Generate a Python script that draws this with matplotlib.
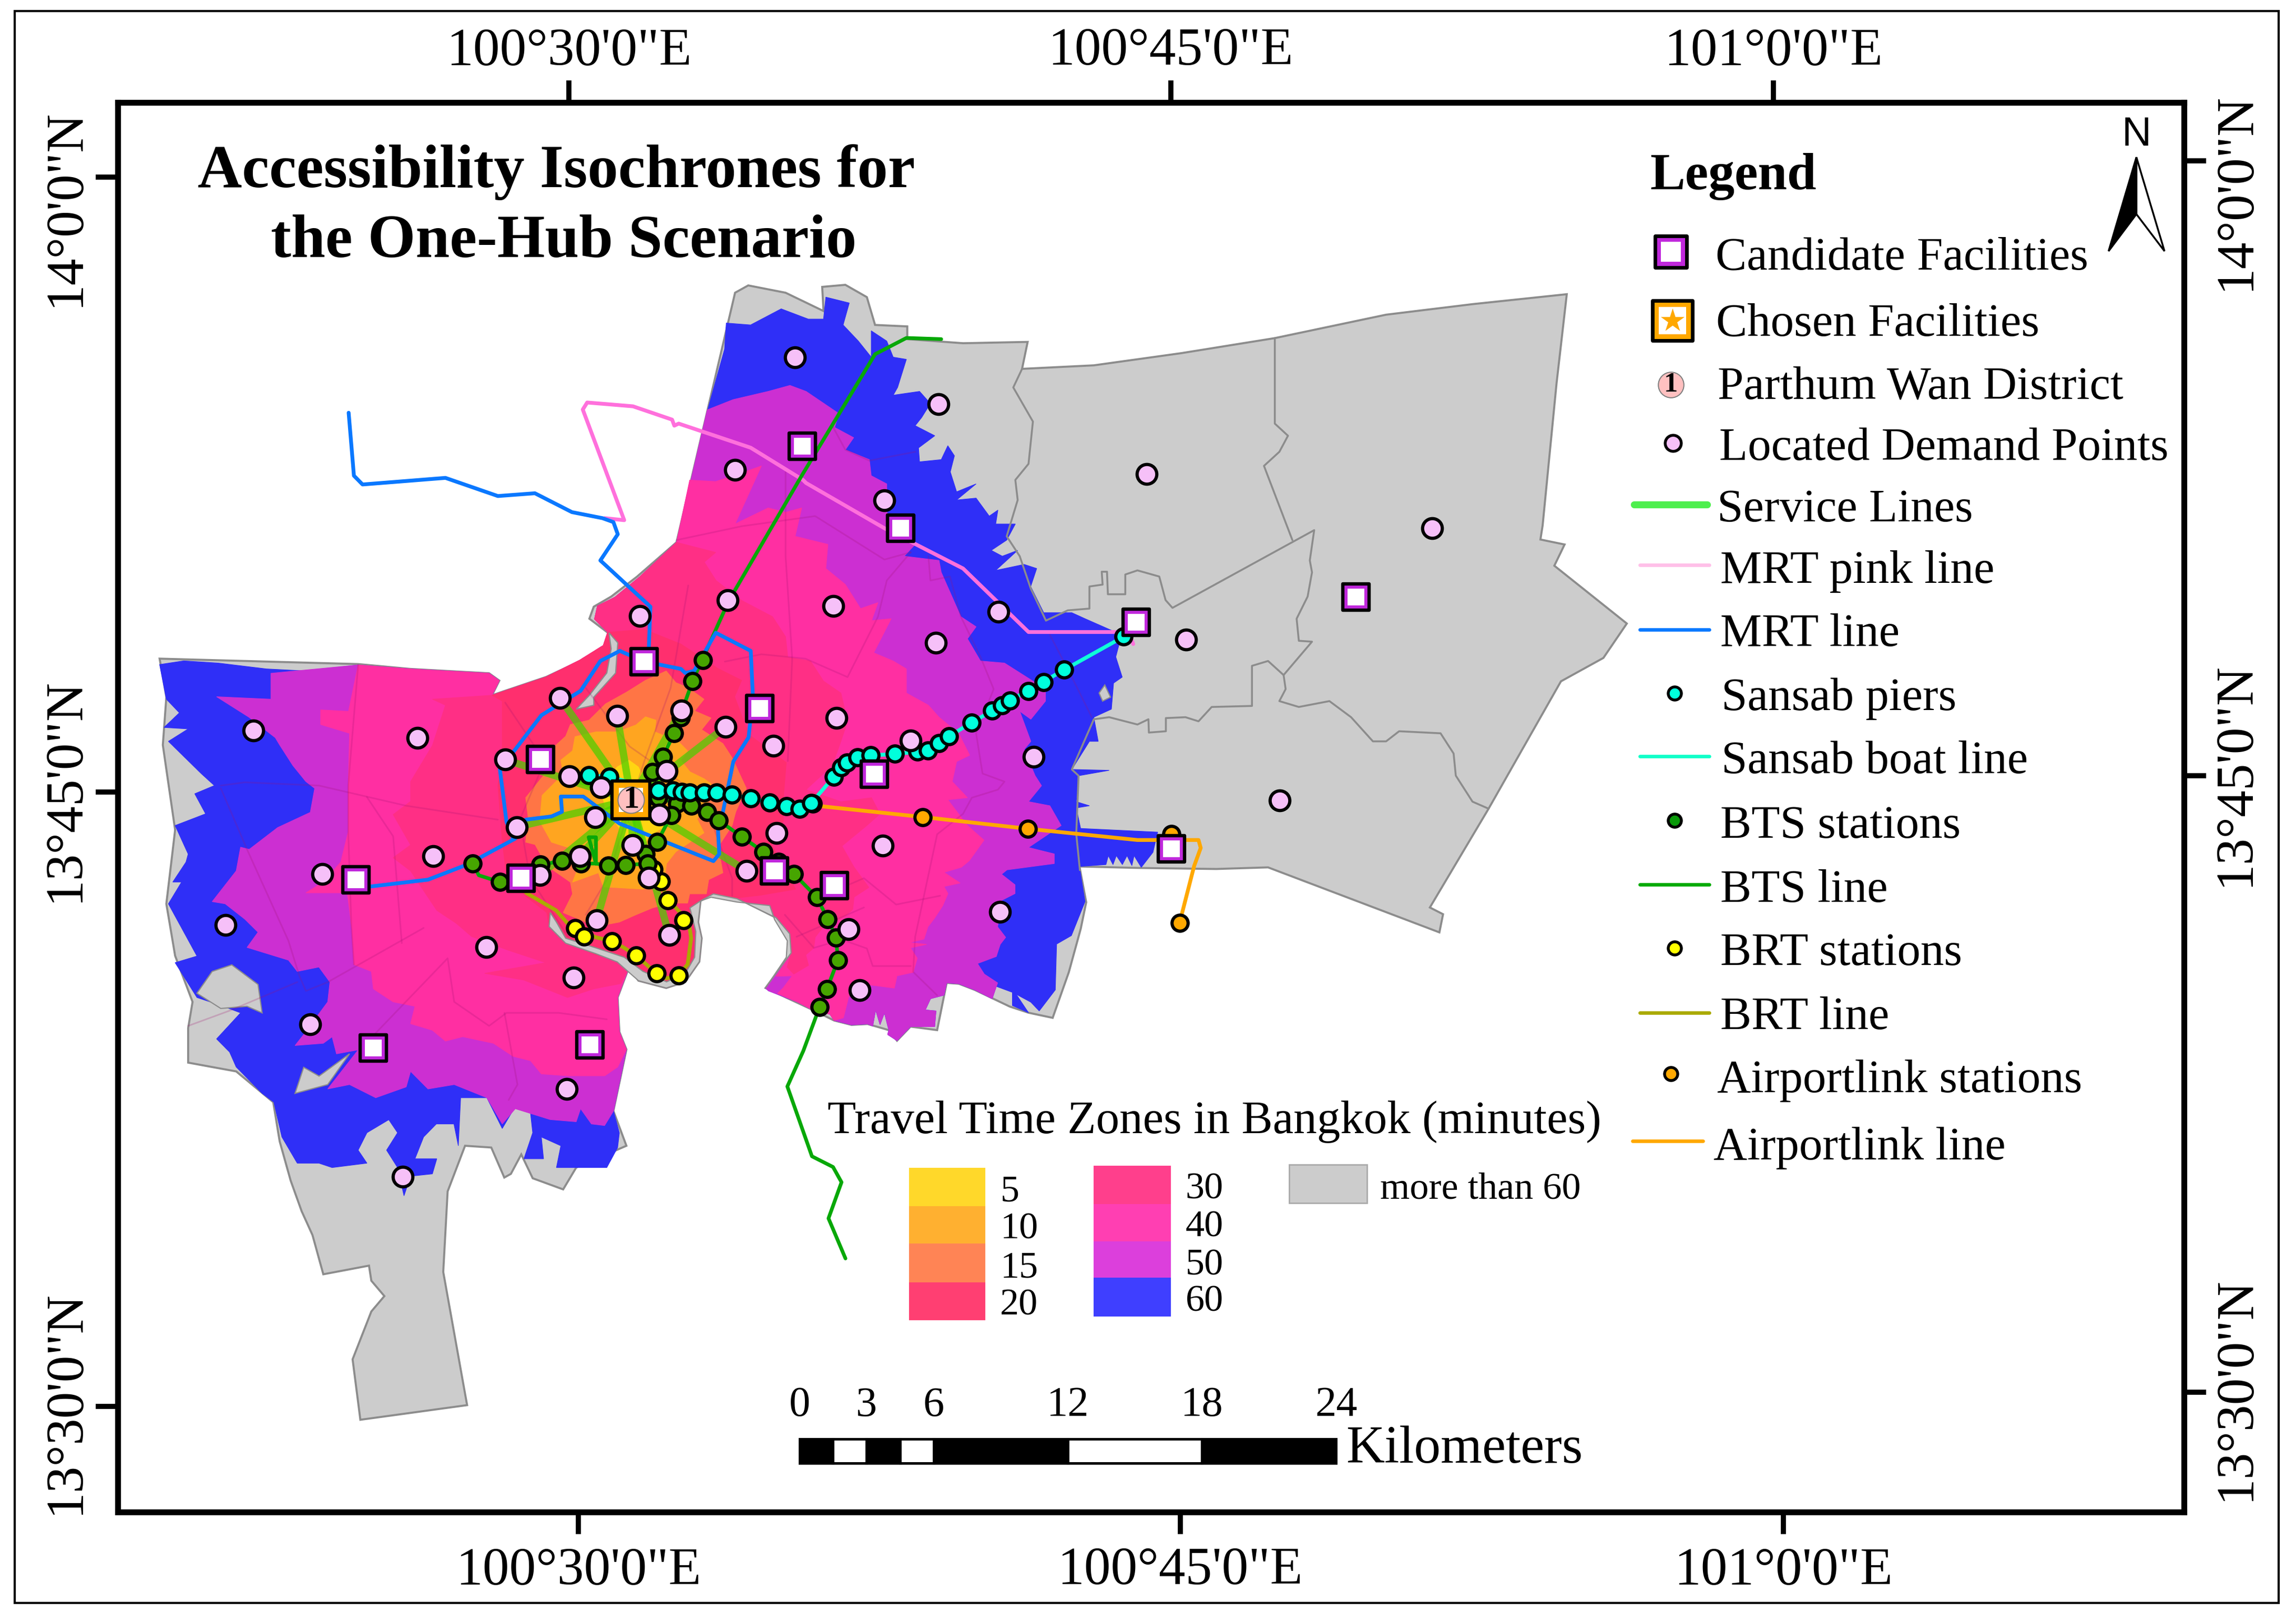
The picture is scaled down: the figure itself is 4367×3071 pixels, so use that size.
import matplotlib

matplotlib.use("Agg")
import matplotlib.pyplot as plt
import numpy as np
from matplotlib.patches import Polygon, Rectangle

plt.rcParams["font.family"] = ["Liberation Serif", "DejaVu Serif"]

# all map data below is in map units (x right, y down)
NW_COAST = [(244.6, 454.3), (280, 457), (334, 460), (341, 465), (336, 475), (373, 462.5), (396, 451), (412, 441),
            (415, 432), (406, 423), (408, 414), (420, 408), (437, 394), (462, 370.5)]
BAY_COAST = [(522.8, 675), (540, 652), (539.3, 638), (530, 627), (503, 613.5), (487.2, 610.7), (478.4, 615.5),
             (476.8, 630), (479.2, 641), (477.6, 657), (468, 670.8), (455, 675), (436, 670), (429.5, 661)]
SE_COAST = [(677.6, 682.3), (665.7, 676.3), (654.8, 672.1), (646.5, 671.5), (644.7, 679.9), (635.5, 682.3),
            (631.9, 690), (639.2, 690.7), (638.3, 701.4), (621.8, 701.4), (612.6, 711), (606.2, 706.8), (607, 703.8),
            (604, 692), (601, 700), (598, 690), (596, 701), (592.5, 699.6), (581.5, 700.2), (569.6, 697.2),
            (566.8, 693), (554, 689.5), (544.8, 684.7), (524.7, 676.9)]

city_outline = [(109, 450)] + [(244.6, 453.7), (280, 457), (334, 460), (341, 465), (336, 475), (373, 462.5),
                (396.5, 451.5), (414, 440.6), (417, 433.7), (402.5, 422.7), (405.5, 414.5), (417.4, 407.6),
                (435, 394), (462, 370.5), (483, 281), (502, 200), (511, 195), (536.5, 200), (562.4, 212.5),
                (561.5, 196), (577.3, 194.6), (592, 203), (597.6, 222), (619.6, 223), (619.6, 231.7), (657.7, 234.5),
                (701.8, 233.6), (698, 252), (747, 249.6), (806.6, 241.3), (870.6, 231), (946.6, 215), (1005.6, 207.8),
                (1070, 201), (1063, 262), (1053.5, 359), (1052, 368.6), (1068.5, 372), (1061.5, 386.5), (1111, 426),
                (1095, 449.5), (1066, 465.5), (1016.6, 552.5), (976.5, 620), (985.5, 624.6), (983, 637), (866, 592.6),
                (830.6, 593.7), (778, 593), (737.2, 592), (741.8, 616.4), (738.1, 634.4), (729.9, 664.3),
                (718.9, 695.4), (702.4, 691.9), (689.6, 687.7), (665.7, 676.3), (654.8, 672.1), (646.5, 671.5),
                (640, 703.8), (621.8, 701.4), (612.6, 711), (607, 703.8), (592.5, 699.6), (581.5, 700.2),
                (569.6, 697.2), (554, 689.5)] + BAY_COAST + [(421.8, 681.5), (423, 705), (427.8, 717), (418.9, 759),
                (427.8, 782.8), (393.5, 797.7), (384.6, 812.6), (363.8, 805), (356, 788.7), (348.9, 802),
                (344.4, 804.5), (335.5, 784), (317.6, 782.8), (305.7, 814), (302.7, 869), (319, 960), (246.1, 970),
                (240.8, 928.7), (253.6, 896), (262.5, 885.5), (253.6, 875), (252, 864.7), (220.8, 870.6),
                (213.4, 843.8), (206, 827.5), (198.5, 806.6), (191, 779.8), (186.6, 753), (161.3, 732), (128.5, 726),
                (128.5, 702.4), (131.5, 684.5), (119.6, 653), (113.6, 617.5), (119.6, 567), (111.2, 509),
                (113.6, 476.3)]

zone_60 = [(109, 454), (125.5, 451.5), (149, 453), (182, 457), (209, 458.4)] + NW_COAST + [(483, 281), (494.8, 238.6),
           (496, 220.7), (512.6, 222), (533.5, 211), (552, 218), (562.4, 218), (564, 203), (580, 207), (575.8, 222),
           (586.2, 233), (595, 244), (595, 226), (605.6, 233), (610, 244), (619, 245.5), (613, 264.7), (610, 270),
           (628, 267.4), (635.4, 275.7), (629.4, 285.3), (625, 290.8), (638.4, 297.7), (627.3, 306), (628, 315.5),
           (642.8, 314), (647.3, 304.5), (651.8, 311.4), (649, 322.4), (653.3, 336), (666.6, 330.6), (653.3, 341.6),
           (666.6, 340.3), (675.6, 352.6), (681.5, 348.5), (680, 358), (693.4, 358), (687.5, 369), (677, 376),
           (684.5, 380), (695, 376), (680, 389.7), (699.4, 385.6), (708, 388.4), (703.9, 400.7), (712.8, 418.6),
           (732, 418.6), (741, 422.7), (766, 433.7), (762, 448.8), (766.4, 462.6), (760.5, 466.7), (759, 484.5),
           (747, 490), (750, 506.5), (744, 506.5), (732, 525.7), (757.5, 526.3), (736.6, 530), (735, 547.7),
           (744, 550.5), (735, 552), (738, 566), (790.6, 568.5), (787.4, 582.3), (779.4, 592.6), (774.5, 584.6),
           (773, 591.4), (769.7, 584.6), (766.5, 590.7), (762.4, 584.6), (760.1, 590.7), (756.9, 584.6), (755.3, 590.7),
           (737.2, 592), (741, 616), (731.7, 639.2), (721.6, 645), (720.7, 676.3), (709.7, 690.7), (704, 684.7),
           (694, 679.3), (702.4, 691.9), (691.4, 687), (691.4, 678), (680.4, 673.9)] + SE_COAST + BAY_COAST + [
           (421.8, 681.5), (423, 705), (427.8, 717), (419, 759), (423, 774), (421.8, 784), (414.4, 797.7), (380, 797.7),
           (383, 782.8), (369.7, 776.8), (371.2, 791.7), (357.8, 791.7), (363.8, 773.9), (362.3, 760.5), (351.9, 756),
           (343, 771), (332.5, 750), (314.6, 750), (313, 782.8), (310, 767.9), (298, 767.9), (289.3, 776.8),
           (283.4, 791.7), (298.3, 791.7), (295.3, 802), (280.4, 803.6), (275.9, 817), (271.5, 797.7), (264, 785.8),
           (271.5, 773.9), (265.5, 765), (250.6, 773.9), (244.6, 785.8), (250.6, 794.7), (226.8, 797.7), (217.8, 794.7),
           (203, 794.7), (192.5, 776.8), (187, 753), (179, 747), (161.3, 729), (156.8, 718.8), (147.9, 709.8),
           (164.3, 692), (152.3, 687.5), (134.5, 681.5), (119.6, 657.7), (134.5, 653.2), (115, 617.5), (124, 602.6),
           (118, 602.6), (127, 589), (128.5, 583.5), (119.6, 564), (140.4, 556), (133, 542.3), (146.4, 536.7),
           (137.4, 528.5), (115, 506.5), (128.5, 498), (112, 497), (122.5, 487), (113.6, 477.7)]

zone_50 = NW_COAST + [(483, 280), (500.7, 273), (524.6, 267.4), (539.5, 263.3), (550.5, 267.4), (572.8, 282.5),
           (570, 292), (583, 299), (577.3, 307.3), (593.7, 314), (595, 325), (605.6, 330.6), (605.6, 350), (625, 371.9),
           (617.5, 380), (641.3, 382.9), (642.8, 391), (656.2, 421.3), (666.6, 428.2), (660.7, 436.4), (669.6, 451.6),
           (686, 453), (714, 470.8), (714, 479), (704, 491.4), (696.4, 485.9), (704, 506.5), (699.4, 512),
           (706.9, 529.9), (711.3, 536.8), (702.4, 547.7), (717, 550.5), (724.7, 564), (702.4, 579), (720, 583.4),
           (720, 590), (687.7, 594.3), (684, 597.3), (693.2, 604.5), (693.2, 610.5), (684, 615.2), (681.3, 633.2),
           (686.8, 640.4), (683.1, 645.2), (680.4, 653.5), (667.6, 658.3), (672.2, 665.5), (681.3, 671.5)] + SE_COAST \
    + BAY_COAST + [(421.8, 681.5), (423, 705), (427.8, 717), (419, 759), (412.9, 769), (403.9, 767.9), (396.5, 757.5),
           (393.5, 766.4), (375.7, 764.9), (351.9, 757.5), (343, 767.9), (332.5, 750), (310.2, 741), (292.3, 744),
           (280.4, 732), (277.4, 742.6), (256.6, 750), (238.7, 741), (223.8, 744), (244.6, 717.3), (229.8, 720),
           (226.8, 708.4), (220.8, 712.8), (201.5, 714.3), (207.4, 706.8), (223.8, 684.5), (225.3, 671), (217.8, 660.7),
           (203, 663.7), (197, 656), (168.7, 647.3), (176.2, 636.9), (167.2, 628), (153.8, 617.5), (144.9, 616),
           (161.3, 595), (164.3, 578.8), (170.2, 580.3), (189.6, 565.4), (211.9, 555), (214.9, 538.6), (208.9, 534),
           (200, 523), (191, 509), (188, 504), (170, 490), (147.9, 476), (185, 477.7), (185, 460)]

zone_40 = NW_COAST + [(471, 328), (488.8, 329), (509.7, 322), (520, 318.3), (502, 358), (524.6, 347), (536.5, 350),
           (547.5, 347), (543, 366.4), (565.4, 371.9), (564, 388.4), (577.3, 399.3), (587.7, 415.8), (599.6, 411.7),
           (595.2, 424), (608.6, 422.7), (596.7, 446), (610, 451.6), (619, 457), (619, 473.5), (634, 481.8),
           (641.3, 490), (654.7, 501), (662.2, 516), (653.3, 520.3), (650.3, 534), (660.7, 545), (647.3, 546.4),
           (660.7, 564), (672, 574), (662, 588), (656.6, 592.5), (644.7, 596), (655.7, 603.3), (644.7, 605.7),
           (647.4, 610.5), (643.8, 618.8), (638.3, 627.2), (633.7, 633.2), (631, 641.6), (620.9, 644), (632.8, 645.2),
           (621.8, 647.6), (626.4, 654.7), (623.6, 664.3), (612.6, 666.7), (610.8, 675.1), (592.5, 672.7),
           (579.6, 681), (576, 695.4), (569.6, 697.2), (566.8, 693), (554, 689.5), (544.8, 684.7), (531, 678.7),
           (534.8, 675), (541, 666.7), (530, 667)] + BAY_COAST[1:] + [(421.8, 681.5), (423, 705), (427.8, 717),
           (421.8, 729), (413, 735), (387.6, 735), (369.7, 733.7), (362.3, 724.7), (350.4, 721.7), (337, 712.8),
           (316, 708.3), (304.2, 711.3), (295.3, 703.9), (280.4, 699.4), (283.4, 687.5), (268.5, 684.5), (255, 675.6),
           (253.6, 663.7), (241.7, 659), (240.2, 634), (237.2, 610), (208.9, 610), (220.8, 602.6), (232.7, 589),
           (237.8, 568.4), (237.8, 538.6), (238.7, 501), (219, 495), (219, 485), (238, 486)]

zone_30 = [(336, 475), (373, 462.5), (396, 451), (412, 441), (415, 432), (406, 423), (408, 414), (420, 408), (437, 394),
           (462, 370.5), (488.8, 377.4), (481, 384), (489, 396.6), (506.7, 410.3), (527.6, 421.3), (536.5, 435),
           (538, 449), (553.5, 451.6), (562.4, 465.3), (574.3, 473.5), (578.8, 492.8), (574.3, 506.5), (568.4, 523),
           (550.5, 539.5), (574.3, 547.7), (595.2, 545), (601, 556), (592, 564), (575, 578), (583.3, 592.5),
           (593.4, 606.3), (583.3, 612.9), (582.4, 621.2), (577.8, 625.4), (561.3, 634.4), (556.7, 640.4),
           (555.8, 647.6), (550.3, 652.4), (552.2, 659.5), (542.1, 665.5), (537.5, 660.7)] + BAY_COAST[1:] \
    + [(424, 672), (405.5, 675.6), (387.6, 681.5), (357.8, 669.6), (331, 665), (372.7, 657.7), (345.9, 648.8),
       (322, 639.8), (311.7, 630.9), (298.3, 622), (286.3, 604), (280.4, 595), (268.5, 586), (280.4, 577.3),
       (268.5, 556.5), (280.4, 547.5), (280.4, 534), (295.3, 509.3), (304.2, 481.8), (295.3, 477.7)]

zone_20 = [(343, 479), (336, 475), (373, 462.5), (396, 451), (412, 441), (415, 432), (440, 430), (465, 440),
           (490.5, 456.8), (506.5, 464.8), (501.7, 476), (511.3, 501.7), (537, 521), (535, 545), (535, 561), (527, 577),
           (543.4, 607.5), (519, 611.7), (503, 613.5), (487.2, 610.7), (478.4, 615.5), (476.8, 630), (479.2, 641),
           (477.6, 657), (468, 670.8), (455, 675), (434.3, 662), (426.3, 657), (407, 652.4), (384.6, 642.8),
           (375, 633), (373.4, 623.5), (359, 612.3), (345.9, 598), (343, 575), (340, 536.7), (343, 520), (343, 509.3)]

zone_15 = [(455, 458.4), (461.6, 466.4), (469.6, 469.6), (480.8, 477.7), (474.4, 485.7), (485.6, 490.5), (479.2, 498.5),
           (493.7, 508), (500, 517.7), (509.7, 538.6), (502.5, 554.6), (500, 564), (490.5, 578.6), (493.7, 596.3),
           (484, 601), (482.4, 610.7), (471, 610.7), (469.6, 617), (458.4, 617), (445.6, 620.3), (434.3, 625),
           (423, 630), (407, 633), (384.6, 623.5), (391, 610.7), (389.5, 602.7), (373.4, 591.5), (365.4, 577),
           (359, 575.4), (360.6, 557.8), (359, 545), (371.8, 529), (370.2, 517.7), (386.3, 503), (389.5, 495),
           (402.3, 492), (413.5, 480.9), (428, 472.8), (440.8, 464.8)]

zone_10 = [(440.8, 489.7), (448, 492), (447.2, 500), (463.2, 506.5), (469.6, 513), (464.8, 519.3), (471.2, 527.3),
           (480.8, 532), (485.6, 535.4), (482.4, 551.4), (476, 559.4), (480.8, 569), (471.2, 575.4), (461.6, 581.9),
           (455.2, 590), (453.6, 602.7), (439, 607.5), (412, 605.9), (408.7, 596.3), (391, 602.7), (395.9, 590),
           (391, 580), (376.6, 575.4), (368.6, 561), (370.2, 543.4), (384.6, 529), (383, 519.3), (391, 512.9),
           (392.7, 503.3), (407, 500), (421.5, 500), (434.3, 495.3)]

zone_5 = [(429.5, 519.3), (436, 524), (439, 530.6), (448.8, 538.6), (448.8, 553), (455, 557.8), (455, 564), (444, 570.6),
          (436, 581.9), (429.5, 586.7), (423, 577), (423, 565.8), (413.5, 553), (410.3, 538.6), (421.5, 524)]

# bits of the outside class showing through, on top of the zones
grey_patches = [
    [(375.8, 623.5), (375, 633), (386.3, 644.4), (407, 651.6), (421.5, 657.2), (436, 670), (455, 675), (468, 670.8),
     (477.6, 657), (479.2, 641), (476.8, 630), (478.4, 615.5), (471.2, 620.3), (475.2, 636.4), (474.4, 654), (468, 665),
     (455.2, 670.8), (439, 663.6), (426.3, 654), (407, 647.6), (386.3, 641), (380, 630)],
    [(478.4, 615.5), (487.2, 610.7), (503.3, 614), (530, 627), (539.3, 638), (540.3, 651), (522.8, 675), (537, 654),
     (537.7, 642.8), (529, 628.3), (525.7, 618.7), (503.3, 616.3), (485.6, 613)],
    [(415.9, 432.3), (421.9, 439.2), (420.4, 459.8), (405.5, 476.3), (405.5, 481.8), (393.6, 484.5), (402.5, 475),
     (414.4, 459.8), (417.4, 443.3)],
    [(144.9, 663.7), (158.3, 659.2), (176.2, 672.6), (179, 692), (168.7, 687.5), (150.8, 689), (134.5, 678.6)],
    [(207.4, 729.2), (201.5, 747), (223.8, 741), (238.7, 720), (217.9, 735.2)],
    [(750.6, 473.5), (754.5, 468), (758.4, 476.3), (753, 479)],
]

district_lines_grey = [
    [(870.6, 231), (870.6, 289.4), (879.6, 297.7), (873.7, 308.7), (863.2, 318.3), (882.6, 369)],
    [(698, 252), (692, 264.7), (705.4, 288), (702.4, 316.9), (693.4, 327.9), (695, 341.6), (687.5, 366.4), (696.4, 380),
     (703.9, 402), (714.3, 424), (729.2, 417), (744, 415.8), (744, 400.7), (753, 399.4), (752.4, 390.6), (756, 390.6),
     (756.6, 406), (768.5, 406), (768.5, 392.5), (776.8, 389.7), (791.7, 393.9), (796, 410), (800.7, 415.3),
     (897.5, 362.2), (894.5, 382.9), (896, 391), (893, 407.6), (885.5, 422.7), (887, 437.8), (896, 438.4),
     (876.6, 461.2), (866, 451.6), (855, 454.9), (855, 482.3), (827.5, 483), (818.5, 492.8), (809.6, 490),
     (796.2, 490.6), (796.2, 499.6), (784.6, 500.5), (784.3, 491.4), (776.8, 495), (757.5, 490), (747, 491.4),
     (732, 525.7), (736.6, 530), (735, 569.7), (737.5, 594.5)],
    [(876.6, 461.2), (878, 470.8), (873.7, 479), (887, 483), (907.9, 479), (922.7, 490), (937.6, 506.5), (946.6, 506.5),
     (955.5, 499.6), (983.8, 501), (992.7, 514.8), (994.2, 529.9), (1005.6, 547.7), (1016.6, 552.5)],
]

district_lines_zones = [
    [(244.6, 454.3), (237.8, 536.8), (237.8, 568), (240, 634), (241.7, 659)],
    [(150.8, 536.7), (167.2, 534.5), (217.8, 536.7), (247.6, 543.6), (277.4, 550.5), (340, 560)],
    [(150.8, 538.6), (168.7, 580.3), (197, 642.8), (204.4, 666.6), (208.9, 677), (223.8, 671), (289.3, 634)],
    [(128.5, 700.9), (156.8, 690.5), (203, 671)],
    [(246.1, 716.7), (305.7, 654.7), (310.2, 684.5), (334, 700.9), (345.9, 692), (381.6, 692), (414.4, 696.4)],
    [(344.5, 692), (353.4, 741), (347.4, 751.5)],
    [(274.4, 644.3), (268.5, 571.4), (250.6, 544.6)],
    [(462, 369), (506.7, 359.5), (556.7, 352.6), (604, 382.3), (622, 377.3)],
    [(536.5, 322.4), (536.5, 380), (541, 450), (538, 520)],
    [(568.4, 290.8), (577.3, 307.3), (593.7, 314.7), (625, 308.7)],
    [(622, 377.3), (605.6, 396.6), (599.6, 421.3), (578.8, 462.6), (550, 450), (520, 447), (495, 452)],
    [(634, 380), (635.4, 396.6), (648.8, 393.9), (656.2, 421.3), (669.6, 448.8), (678.6, 470.8), (666.6, 501),
     (671, 528.5), (686, 534), (681.5, 539.5), (663.7, 545), (657.7, 556), (640, 570), (625, 640), (623.6, 664),
     (640, 680)],
    [(717, 433.7), (732, 462.6), (745.6, 490)],
    [(536, 625), (555.8, 647.6), (575, 642), (592, 648), (596, 660), (622, 660)],
    [(470, 400), (458, 470), (440, 520), (415, 600), (400, 625)],
    [(400, 470), (430, 510), (480, 545), (500, 600), (500, 612)],
    [(345, 480), (372, 520), (355, 560), (362, 600), (388, 640)],
    [(562, 612), (590, 600), (612, 618), (642, 612)],
    [(544, 640), (590, 620)],
]

# service lines run from the chosen facility to these demand points
service_ends = [(382.4, 476.8), (421.5, 489), (465.3, 485.3), (495.6, 496.6), (455.2, 526.9), (388.7, 530.2),
                (410.3, 538), (406.3, 558.3), (353, 565), (345, 519), (368.6, 597.9), (395.9, 584.8), (432, 577.5),
                (407.4, 628.7), (457, 638.9), (510, 595), (443.2, 599.5), (450.4, 556.5)]

pink_line = [(412.9, 354), (426.3, 355.4), (398, 279.8), (401, 275), (432.3, 277.6), (459, 286.7), (460.5, 290.8),
             (463.5, 289.4), (512.7, 305.9), (548.4, 327.9), (550.5, 330), (604, 360.9), (657.7, 388.4), (702.4, 431.8),
             (770.9, 431.8), (773.9, 440)]
mrt_north = [(238.1, 282), (241.7, 325), (247.6, 331), (304.2, 326.5), (340, 338.9), (365.3, 337), (390.6, 349.9),
             (411.4, 354), (418.9, 356.7), (421.9, 365), (410, 382.9), (444.2, 414.5), (442.7, 452)]
mrt_loop = [(440, 452), (423.3, 444.7), (410, 451.6), (396.5, 472), (369.7, 488.7), (351.9, 512), (341.4, 525.7),
            (345.9, 561.5), (350, 572), (359, 560), (376.6, 557.8), (383.8, 554.6), (383, 544.2), (398.3, 544.2),
            (423, 562.6), (487.2, 588.3), (491.2, 583.5), (490.3, 566), (491.8, 564), (500.8, 520.3), (511.2, 503.8),
            (514.2, 476.3), (512.7, 444.7), (488.8, 432.3), (474, 458.4), (468, 459.8), (465, 457), (440, 452)]
mrt_west = [(243, 606), (253.6, 605.6), (292.3, 601), (319, 590.7), (351.9, 572.9)]
bts_north = [(642.8, 231.7), (619, 230.9), (597.6, 242), (547.5, 325), (497.8, 410.3), (479.9, 450), (473, 465.3),
             (460.3, 500.9), (452.8, 517), (445.6, 527.4)]
bts_east = [(449.6, 545), (462.4, 549), (472, 550.6), (483, 554.6), (490.8, 560.5), (506.8, 571.8), (521.2, 581.9),
            (531.8, 589), (542.2, 597), (557.8, 613), (565.3, 627.9), (571, 640.4), (572.2, 656), (564.7, 675.9),
            (559.7, 688), (548.6, 718), (537.7, 742.3), (554.5, 790), (568.9, 797.3), (574.7, 807.7), (565.8, 832.4),
            (577.4, 859.8)]
bts_west = [(458.4, 557), (448.8, 575.4), (440.8, 583.4), (442.4, 590), (427.4, 591), (415.4, 591.5), (407, 590),
            (407, 572), (402, 572), (407, 590), (396.7, 589.9), (383.8, 588.3), (369, 590.7), (341.4, 602.6),
            (327, 598), (322.7, 589.8)]
brt_line = [(359.3, 610), (379.8, 622), (389.5, 633), (407, 640.4), (418, 643), (426.3, 647.6), (434.3, 652.7),
            (448.3, 665), (455, 668.4), (463.4, 666.5), (469.6, 658.8), (472, 641), (470.4, 630), (461.6, 620.3),
            (456, 615), (451.2, 602.2), (446.4, 593.9)]
boat_line = [(402, 529.8), (416, 530.6), (449.6, 540), (459.5, 539.9), (471.2, 541.5), (489.3, 541.5), (499.7, 542.9),
             (512.6, 545.5), (525.6, 548.2), (537, 550.8), (546, 552.7), (554.2, 548.5), (569.5, 530.6), (578.3, 520.9),
             (594.6, 516), (609.9, 515.3), (633.9, 512.8), (648.2, 503), (663.7, 493.6), (689.9, 478.5), (726.8, 457.6),
             (767.3, 435)]
airport_line = [(554, 549), (562.4, 551), (630.3, 558.2), (701.8, 566.2), (776.8, 573.9), (818.5, 573.9), (820, 579.3),
                (815.5, 591.7), (805.6, 630.4)]

demand_points = [(543, 244), (641, 276), (783, 324), (978, 361), (502, 321), (604, 342), (497, 410), (569, 414),
                 (682, 418), (639, 439), (810, 437), (437, 421), (382.4, 476.8), (421.5, 489), (465.3, 485.3),
                 (495.6, 496.6), (528, 509.4), (571.4, 490.5), (622, 506), (706, 517), (173, 499), (285, 504), (345, 519),
                 (388.7, 530.2), (410.3, 538), (455.2, 526.9), (406.3, 558.3), (353, 565), (450.4, 556.5), (530.4, 569),
                 (602.7, 577.9), (874, 547), (296, 585), (220, 597), (368.6, 597.9), (395.9, 584.8), (432, 577.5),
                 (443.2, 599.5), (510, 595), (154, 632), (332, 647), (407.4, 628.7), (457, 638.9), (579.4, 634.8),
                 (683, 623), (391.7, 668), (587, 676.4), (212, 700), (387, 744), (275, 804)]
candidate_points = [(548, 305), (615, 361), (776, 425), (926, 408), (440, 452), (519, 484), (369, 519), (597, 529),
                    (243, 601), (356, 600), (529, 595), (570, 605), (800, 580), (255, 716), (403, 714)]
chosen_point = (431, 546.6)
bts_stations = [(480, 451), (473, 465.3), (465, 490), (460.3, 500.9), (452.8, 517), (445.6, 527.4), (449.6, 545),
                (462.4, 549), (472, 550.6), (483, 554.6), (490.8, 560.5), (506.8, 571.8), (521.2, 581.9), (531.8, 589),
                (542.2, 597), (557.8, 613), (565.3, 627.9), (571, 640.4), (572.2, 656), (564.7, 675.9), (559.7, 688),
                (458.4, 557), (448.8, 575.4), (440.8, 583.4), (442.4, 590), (427.4, 591), (415.4, 591.5), (396.7, 589.9),
                (383.8, 588.3), (369, 590.7), (341.4, 602.6), (322.7, 589.8)]
sansab_piers = [(402, 529.8), (416, 530.6), (449.6, 540), (459.5, 539.9), (465.6, 541), (471.2, 541.5), (480.8, 541.5),
                (489.3, 541.5), (499.7, 542.9), (512.6, 545.5), (525.6, 548.2), (537, 550.8), (546, 552.7), (554.2, 548.5),
                (569.5, 530.6), (574.6, 524.1), (578.3, 520.9), (585.5, 517.4), (594.6, 516), (611, 514.8), (626.4, 513.4),
                (633.9, 512.8), (641.3, 507.9), (648.2, 503), (663.7, 493.6), (677.7, 485.4), (684.5, 481.8), (689.9, 478.5),
                (702.4, 472.2), (712.8, 466.1), (726.8, 457.6), (767.3, 435)]
brt_stations = [(392.7, 634), (399, 639.9), (418, 643), (434.3, 652.7), (448.3, 665), (463.4, 666.5), (466.7, 628.7),
                (456, 615), (451.2, 602.2), (446.4, 593.9)]
airport_stations = [(630.3, 558.2), (701.8, 566.2), (805.6, 630.4), (800, 570), (555, 549)]

lon_labels = ["100°30'0\"E", "100°45'0\"E", "101°0'0\"E"]
top_ticks = [388.5, 799.5, 1211]
bottom_ticks = [395, 806, 1218]
lat_labels = ["14°0'0\"N", "13°45'0\"N", "13°30'0\"N"]
left_ticks = [121, 541, 961]
right_ticks = [110, 530, 951]
left_label_y = [142, 540, 958]
right_label_y = [131, 529, 949]

zone_labels_a = ["5", "10", "15", "20"]
zone_colors_a = ["#ffd82a", "#ffb030", "#ff8455", "#ff3f72"]
zone_labels_b = ["30", "40", "50", "60"]
zone_colors_b = ["#ff3f8c", "#ff3fb2", "#dc3fdc", "#3f3fff"]
map_zone_colors = ["#2f2ff7", "#cc2fd2", "#ff2fa2", "#ff2f85", "#ff2f6e", "#ff7545", "#ffa520", "#ffd512"]
scale_km = [0, 3, 6, 12, 18, 24]
scale_segments = [(0, 1.5, "k"), (1.5, 3, "w"), (3, 4.5, "k"), (4.5, 6, "w"), (6, 12, "k"), (12, 18, "w"), (18, 24, "k")]

FS_AXIS = 73
FS_LEG = 64
FS_KEY = 52
DY = 2.5

fig = plt.figure(figsize=(43.67, 30.71), dpi=100)
W, H = 1568.0, 1102.7
ax = fig.add_axes([80.6 / W, 1 - 1033 / H, (1491.4 - 80.6) / W, (1033 - 70) / H])
ax.set_xlim(80.6, 1491.4)
ax.set_ylim(1033, 70)


def fill(points, color, z, **kw):
    ax.add_patch(Polygon(points, closed=True, facecolor=color, edgecolor=kw.pop("edge", color),
                         lw=kw.pop("lw", 0.8), zorder=z, **kw))


def dots(points, face, size, z, lw=4.4):
    xy = np.array(points)
    ax.scatter(xy[:, 0], xy[:, 1], s=size ** 2, c=face, edgecolors="k", linewidths=lw, zorder=z)


def line(points, color, lw, z, **kw):
    xy = np.array(points)
    ax.plot(xy[:, 0], xy[:, 1], color=color, lw=lw, zorder=z, solid_joinstyle="round", solid_capstyle="round", **kw)


fill(city_outline, "#cccccc", 1, edge="#8c8c8c", lw=2.8)
for zi, (poly, col) in enumerate(zip([zone_60, zone_50, zone_40, zone_30, zone_20, zone_15, zone_10, zone_5],
                                     map_zone_colors)):
    fill(poly, col, 2 + zi * 0.1)
for poly in grey_patches:
    fill(poly, "#cccccc", 3, edge="#8c8c8c", lw=1.6)
for seg in district_lines_grey:
    line(seg, "#8c8c8c", 2.6, 3.1)
for seg in district_lines_zones:
    line(seg, "#a01070", 2.2, 3.1, alpha=0.22)

for end in service_ends:
    ax.plot([chosen_point[0], end[0]], [chosen_point[1], end[1]], color="#48d000", lw=10, alpha=0.72, zorder=4,
            solid_capstyle="butt")

line(pink_line, "#ff70dc", 5.2, 5)
line(bts_north, "#08a808", 5.0, 5)
line(bts_east, "#08a808", 5.0, 5)
line(bts_west, "#08a808", 5.0, 5)
line(brt_line, "#aaaa00", 5.2, 5)
line(boat_line, "#0fffd8", 5.2, 5)
line(airport_line, "#ffa800", 5.2, 5)
line(mrt_north, "#0a78ff", 5.2, 5.5)
line(mrt_loop, "#0a78ff", 5.2, 5.5)
line(mrt_west, "#0a78ff", 5.2, 5.5)

dots(airport_stations, "#ffa800", 22, 6)
dots(brt_stations, "#ffff00", 22, 6.1)
dots(bts_stations, "#46a500", 22, 6.2)
dots(sansab_piers, "#00ffdc", 22, 6.3)
dots(demand_points, "#f6c0f8", 27, 6.5)

cand = np.array(candidate_points)
ax.scatter(cand[:, 0], cand[:, 1], marker="s", s=36 ** 2, c="#c028dc", edgecolors="k", linewidths=4.6, zorder=7)
ax.scatter(cand[:, 0], cand[:, 1], marker="s", s=23 ** 2, c="w", linewidths=0, zorder=7.1)
ax.scatter(*chosen_point, marker="s", s=52 ** 2, c="#ffa800", edgecolors="k", linewidths=4.6, zorder=8)
ax.scatter(*chosen_point, marker="s", s=33 ** 2, c="w", linewidths=0, zorder=8.1)
ax.scatter(*chosen_point, marker="o", s=36 ** 2, c="#ffc0c0", edgecolors="#808080", linewidths=1.5, zorder=8.2)
ax.text(chosen_point[0], chosen_point[1], "1", fontsize=44, fontweight="bold", ha="center", va="center", zorder=8.3)

# title
ax.text(380, 115 + DY, "Accessibility Isochrones for", fontsize=84, fontweight="bold", ha="center", va="center")
ax.text(385, 163 + DY, "the One-Hub Scenario", fontsize=84, fontweight="bold", ha="center", va="center")

# north arrow
ax.text(1459, 92, "N", family="Liberation Sans", fontsize=56, ha="center", va="center")
ax.add_patch(Polygon([(1459, 107.4), (1478.2, 171.6), (1459, 146.3)], closed=True, fc="w", ec="k", lw=2.5, zorder=9))
ax.add_patch(Polygon([(1459, 107.4), (1440, 171.6), (1459, 146.3)], closed=True, fc="k", ec="k", lw=2.5, zorder=9))

# legend
ax.text(1127, 118 + DY, "Legend", fontsize=72, fontweight="bold", ha="left", va="center")
ax.scatter(1141, 172, marker="s", s=43 ** 2, c="#c028dc", edgecolors="k", linewidths=5, zorder=7)
ax.scatter(1141, 172, marker="s", s=28 ** 2, c="w", linewidths=0, zorder=7.1)
ax.scatter(1142, 219, marker="s", s=55 ** 2, c="#ffa800", edgecolors="k", linewidths=5, zorder=7)
ax.scatter(1142, 219, marker="s", s=37 ** 2, c="w", linewidths=0, zorder=7.1)
ax.scatter(1142, 219, marker="*", s=34 ** 2, c="#ffa800", linewidths=0, zorder=7.2)
ax.scatter(1141, 263, marker="o", s=35 ** 2, c="#ffc0c0", edgecolors="#808080", linewidths=1.5, zorder=7)
ax.text(1141, 263, "1", fontsize=38, fontweight="bold", ha="center", va="center", zorder=7.2)

legend_dots = [(1142.4, 302.6, "#f6c0f8", 22), (1143.7, 473.6, "#00ffdc", 18), (1143.7, 560.6, "#0a9a0a", 18),
               (1143.7, 647.6, "#ffff00", 18), (1141, 733.7, "#ffa800", 18)]
for lx, ly, col, size in legend_dots:
    ax.scatter(lx, ly, s=size ** 2, c=col, edgecolors="k", linewidths=3.9, zorder=7)
legend_lines = [(1116, 1166, 344.6, "#4eef4e", 9.6), (1120, 1167.4, 386, "#ffc0e8", 4.8), (1120, 1167.4, 430, "#0a78ff", 4.8),
                (1120, 1167.4, 516.8, "#0fffc8", 4.8), (1120, 1167.4, 604.3, "#08aa08", 4.8),
                (1120, 1167.4, 692, "#aaaa00", 4.8), (1114.8, 1163, 779.4, "#ffa800", 4.8)]
for x0, x1, ly, col, lw in legend_lines:
    ax.plot([x0, x1], [ly, ly], color=col, lw=lw, solid_capstyle="round")
legend_texts = [(1171.7, 174, "Candidate Facilities"), (1172, 219, "Chosen Facilities"), (1173, 262, "Parthum Wan District"),
                (1174, 304, "Located Demand Points"), (1172.5, 346, "Service Lines"), (1175, 388, "MRT pink line"),
                (1175, 431, "MRT line"), (1175.5, 475, "Sansab piers"), (1175.5, 518, "Sansab boat line"),
                (1175, 562, "BTS stations"), (1175, 606, "BTS line"), (1175, 649, "BRT stations"), (1175, 693, "BRT line"),
                (1172.7, 736, "Airportlink stations"), (1170, 782, "Airportlink line")]
for tx, ty, label in legend_texts:
    ax.text(tx, ty + DY, label, fontsize=FS_LEG, ha="left", va="center")

# travel time key
ax.text(565, 764 + DY, "Travel Time Zones in Bangkok (minutes)", fontsize=FS_LEG, ha="left", va="center")
key_a_edges = [798, 824, 849.5, 876, 902]
key_a_text_y = [812, 837.5, 864, 889.5]
key_b_edges = [796.3, 822.5, 848, 873, 899.4]
key_b_text_y = [810, 836, 862, 887]
for i in range(4):
    ax.add_patch(Rectangle((620.7, key_a_edges[i]), 52.1, key_a_edges[i + 1] - key_a_edges[i], fc=zone_colors_a[i], lw=0))
    ax.text(683, key_a_text_y[i] + DY, zone_labels_a[i], fontsize=FS_KEY, ha="left", va="center")
    ax.add_patch(Rectangle((746.8, key_b_edges[i]), 52.9, key_b_edges[i + 1] - key_b_edges[i], fc=zone_colors_b[i], lw=0))
    ax.text(809.5, key_b_text_y[i] + DY, zone_labels_b[i], fontsize=FS_KEY, ha="left", va="center")
ax.add_patch(Rectangle((880.3, 795.7), 53.4, 26.3, fc="#cccccc", ec="#aaaaaa", lw=2))
ax.text(942.6, 810 + DY, "more than 60", fontsize=FS_KEY, ha="left", va="center")

# scale bar, 15.27 map units per km
for km0, km1, col in scale_segments:
    ax.add_patch(Rectangle((546 + km0 * 15.27, 983), (km1 - km0) * 15.27, 16.5, fc=col, ec="k", lw=3.5, zorder=5))
for km in scale_km:
    ax.text(546 + km * 15.27, 958 + DY, str(km), fontsize=58, ha="center", va="center")
ax.text(919.3, 988 + DY, "Kilometers", fontsize=73, ha="left", va="center")

# frame and graticule ticks
for sp in ax.spines.values():
    sp.set_linewidth(8)
ax.set_xticks(bottom_ticks)
ax.set_xticklabels(lon_labels, fontsize=FS_AXIS)
ax.set_yticks(left_ticks)
ax.set_yticklabels([])
ax.tick_params(length=30, width=7, pad=6)
ax.tick_params(axis="x", pad=18)
top_ax = ax.secondary_xaxis("top")
top_ax.set_xticks(top_ticks)
top_ax.set_xticklabels(lon_labels, fontsize=FS_AXIS)
top_ax.tick_params(length=30, width=7, pad=6)
top_ax.spines["top"].set_linewidth(8)
right_ax = ax.secondary_yaxis("right")
right_ax.set_yticks(right_ticks)
right_ax.set_yticklabels([])
right_ax.tick_params(length=30, width=7)
right_ax.spines["right"].set_linewidth(8)
for ly, label in zip(left_label_y, lat_labels):
    ax.text(45, ly, label, fontsize=FS_AXIS, rotation=90, ha="center", va="center", clip_on=False)
for ly, label in zip(right_label_y, lat_labels):
    ax.text(1527, ly, label, fontsize=FS_AXIS, rotation=90, ha="center", va="center", clip_on=False)

# outer neat line
fig.add_artist(Rectangle((10 / W, 1 - 1095 / H), 1546 / W, 1087.5 / H, fill=False, ec="k", lw=3,
                         transform=fig.transFigure))

fig.savefig("out.png", dpi=100, facecolor="w")
